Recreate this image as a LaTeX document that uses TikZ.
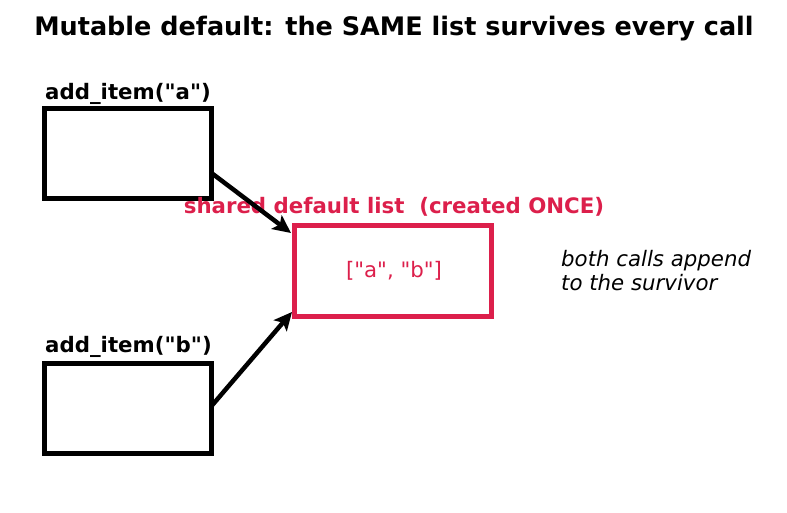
\documentclass[tikz,border=0pt]{standalone}
\usepackage{fontspec}
\newfontfamily\dv{DejaVu Sans}
\setmainfont{DejaVu Sans}
\usetikzlibrary{arrows.meta}
\definecolor{crim}{HTML}{DC1F4B}
\begin{document}
\begin{tikzpicture}[x=1pt,y=-1pt,
  callbox/.style={draw=black,line width=5pt,minimum width=167pt,minimum height=90pt,inner sep=0pt,outer sep=0pt,anchor=north west},
  listbox/.style={draw=crim,line width=5pt,minimum width=197pt,minimum height=91pt,inner sep=0pt,outer sep=0pt,anchor=north west},
  calllabel/.style={font=\dv\bfseries\fontsize{21.3}{24}\selectfont,anchor=base west,inner sep=0pt},
  conn/.style={line width=4.5pt,-{Stealth[length=18pt,width=17pt,inset=4pt]}}]
\useasboundingbox (0,0) rectangle (787,512);
\node[font=\dv\bfseries\fontsize{25.5}{30}\selectfont,anchor=base,inner sep=0pt] (title) at (394,35) {Mutable default: the SAME list survives every call};
\node[callbox] (a) at (44.5,108.5) {};
\node[callbox] (b) at (44.5,363.5) {};
\node[listbox] (s) at (294.5,225.5) {};
\node[text=crim,font=\dv\fontsize{21.3}{24}\selectfont] (stxt) at (394,271) {["a", "b"]};
\node[calllabel] (la) at (45,99) {add\_item("a")};
\node[calllabel] (lb) at (45,352) {add\_item("b")};
\node[font=\dv\bfseries\fontsize{21.3}{24}\selectfont,text=crim,anchor=base,inner sep=0pt] (slabel) at (394,213) {shared default list\ \ (created ONCE)};
\node[font=\dv\itshape\fontsize{21.3}{24}\selectfont,align=left,anchor=base west,inner sep=0pt] (note) at (561,290) {both calls append\\to the survivor};
\coordinate (ta) at (291,233);
\coordinate (tb) at (292,312);
\draw[conn] (a.east |- 0,173) -- (ta);
\draw[conn] (b.east |- 0,406) -- (tb);
\end{tikzpicture}
\end{document}
